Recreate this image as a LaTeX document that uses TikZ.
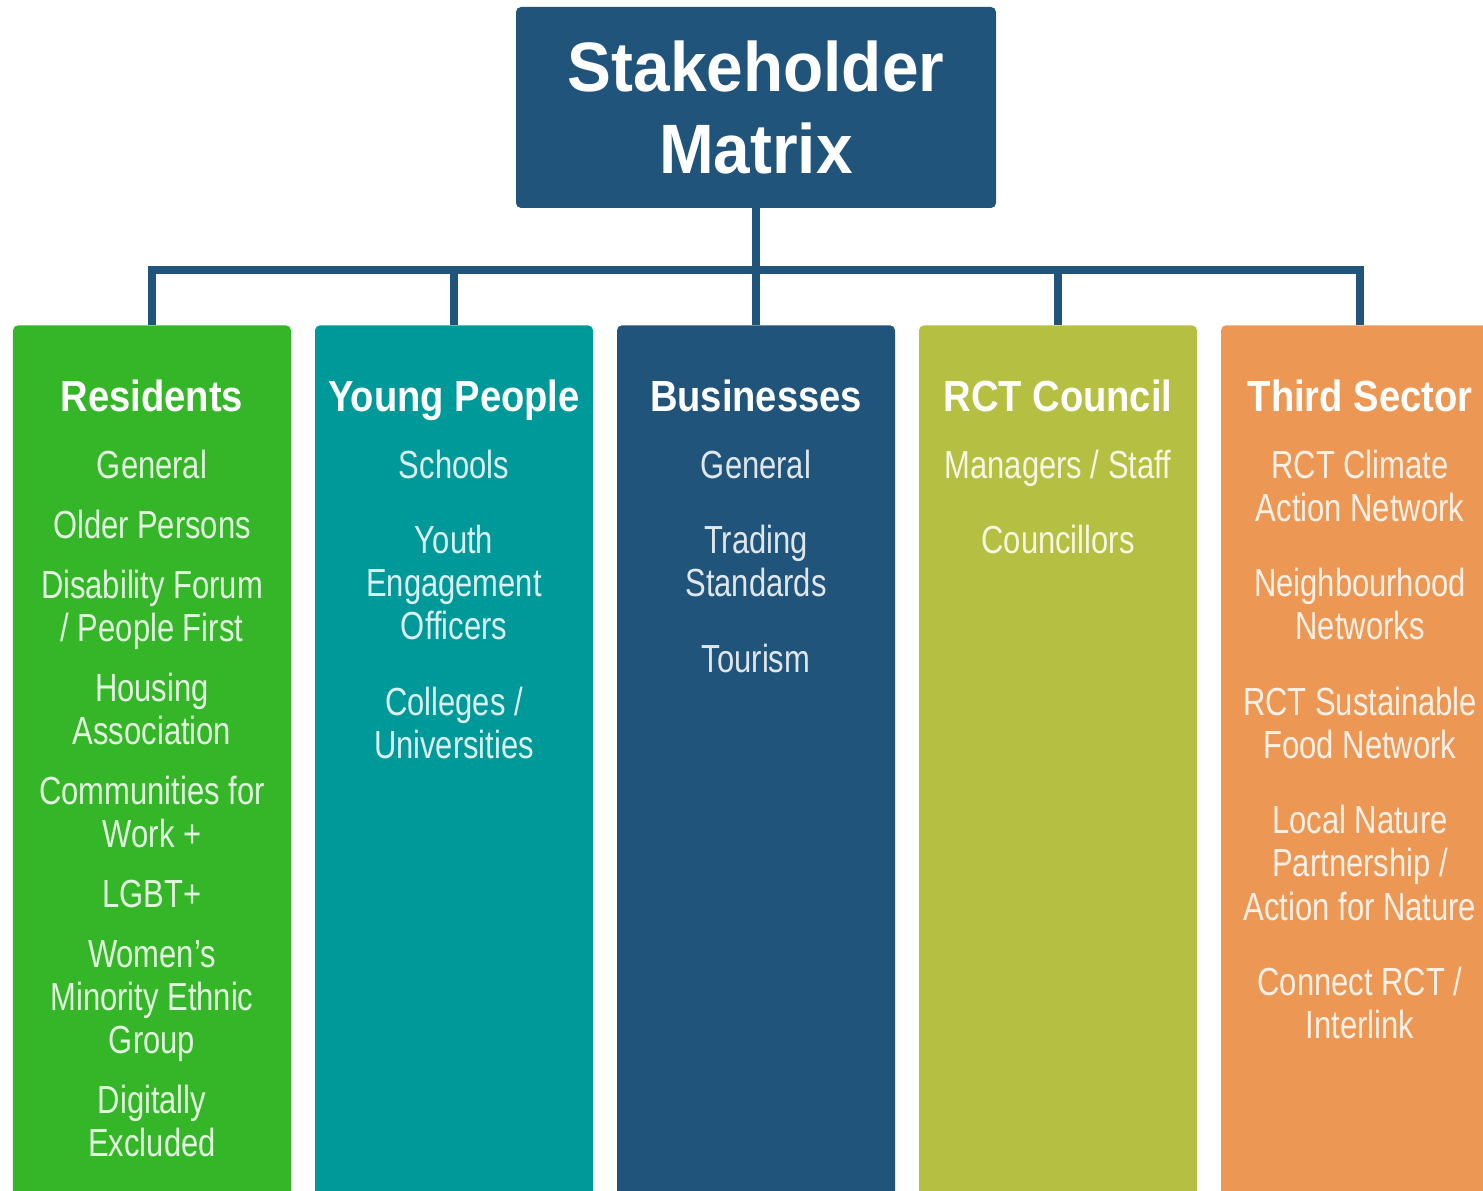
\documentclass[tikz,border=0pt]{standalone}
\usepackage{fontspec}
\setmainfont{Liberation Sans}[FakeStretch=0.79]
\newfontfamily\headfont{Liberation Sans}[FakeStretch=0.875]
\newfontfamily\titlefont{Liberation Sans}[FakeStretch=0.94]
\usepackage{tikz}
\usetikzlibrary{positioning}
\definecolor{stkblue}{RGB}{33,84,122}
\definecolor{stkgreen}{RGB}{52,182,40}
\definecolor{stkteal}{RGB}{0,153,153}
\definecolor{stkolive}{RGB}{181,192,66}
\definecolor{stkorange}{RGB}{236,152,84}
\tikzset{
	groupbox/.style={fill=#1, rounded corners=0.1cm, minimum width=5.56cm, minimum height=18cm, anchor=north, inner sep=0pt},
	grouphead/.style={text=white, font=\headfont\bfseries\fontsize{24.8}{28}\selectfont, anchor=base, inner sep=0pt},
	groupitems/.style={text=white!86!#1, font=\fontsize{22.3}{24.48}\selectfont, align=center, inner sep=0pt},
	link/.style={draw=stkblue, line width=0.16cm},
}

\begin{document}
\begin{tikzpicture}
			% 描画範囲
			\clip (0,0) rectangle (29.66,23.80);
			% タイトルの描画
			\node[fill=stkblue, rounded corners=0.1cm, minimum width=9.6cm, minimum height=4.02cm, text=white, align=center, font=\titlefont\bfseries\fontsize{39.8}{47.1}\selectfont] (title) at (15.12,21.65) {Stakeholder\\Matrix};
			% 列の描画
			\node[groupbox=stkgreen] (res) at (3.04,17.30) {};
			\node[groupbox=stkteal] (young) at (9.08,17.30) {};
			\node[groupbox=stkblue] (biz) at (15.12,17.30) {};
			\node[groupbox=stkolive] (council) at (21.16,17.30) {};
			\node[groupbox=stkorange] (third) at (27.20,17.30) {};
			% 線の描画
			\foreach \g in {res,young,biz,council,third}
				\draw[link] (title.south) -- ++(0,-1.24) -| (\g.north);
			% 見出しの描画
			\node[grouphead] (reshead) at ([yshift=-1.74cm]res.north) {Residents};
			\node[grouphead] (younghead) at ([yshift=-1.74cm]young.north) {Young People};
			\node[grouphead] (bizhead) at ([yshift=-1.74cm]biz.north) {Businesses};
			\node[grouphead] (councilhead) at ([yshift=-1.74cm]council.north) {RCT Council};
			\node[grouphead] (thirdhead) at ([yshift=-1.74cm]third.north) {Third Sector};
			% 項目の描画
			\node[groupitems=stkgreen, below=0.718cm of reshead.base] (resitems) {\strut General\\[0.34cm]Older Persons\\[0.34cm]Disability Forum\\/ People First\\[0.34cm]Housing\\Association\\[0.34cm]Communities for\\Work +\\[0.34cm]LGBT+\\[0.34cm]Women’s\\Minority Ethnic\\Group\\[0.34cm]Digitally\\Excluded};
			\node[groupitems=stkteal, below=0.718cm of younghead.base] (youngitems) {\strut Schools\\[0.65cm]Youth\\Engagement\\Officers\\[0.65cm]Colleges /\\Universities};
			\node[groupitems=stkblue, below=0.718cm of bizhead.base] (bizitems) {\strut General\\[0.65cm]Trading\\Standards\\[0.65cm]Tourism};
			\node[groupitems=stkolive, below=0.718cm of councilhead.base] (councilitems) {\strut Managers / Staff\\[0.65cm]Councillors};
			\node[groupitems=stkorange, below=0.718cm of thirdhead.base] (thirditems) {\strut RCT Climate\\Action Network\\[0.65cm]Neighbourhood\\Networks\\[0.65cm]RCT Sustainable\\Food Network\\[0.65cm]Local Nature\\Partnership /\\Action for Nature\\[0.65cm]Connect RCT /\\Interlink};
		\end{tikzpicture}
\end{document}
